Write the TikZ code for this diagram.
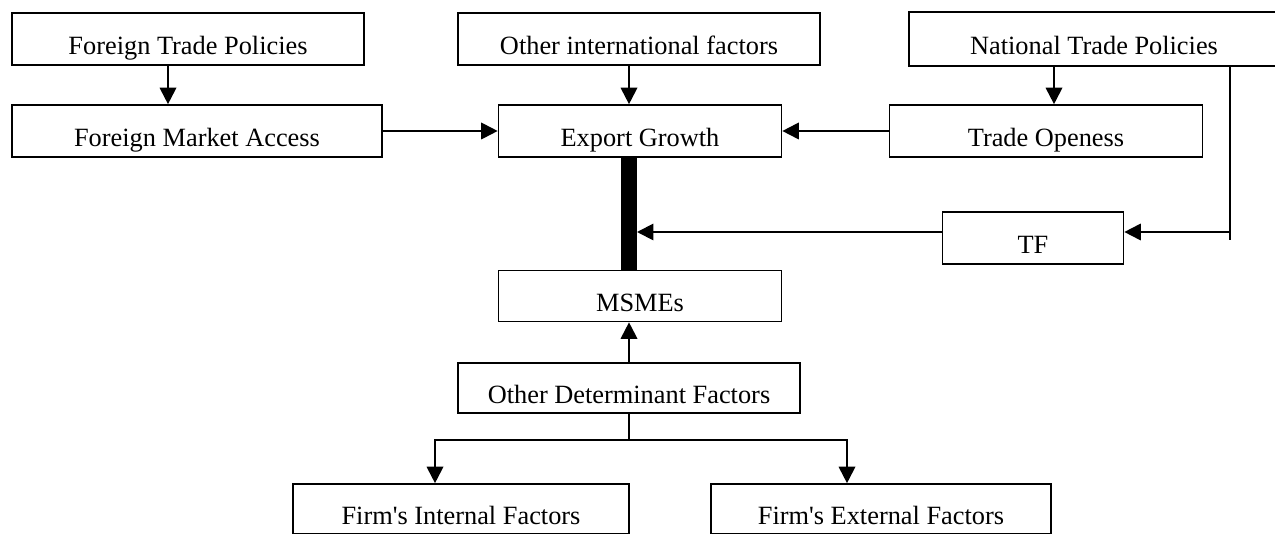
\documentclass[tikz,border=0pt]{standalone}
\usepackage{fontspec}
\setmainfont{Liberation Serif}
\usetikzlibrary{arrows.meta}
\tikzset{
  block/.style={draw, line width=0.75pt, minimum height=52*0.016cm, inner sep=0pt,
    text height=14.5pt, text depth=0pt, font=\fontsize{12}{14}\selectfont},
  bw/.style={minimum width=#1*0.016cm},
  bh/.style={minimum height=#1*0.016cm},
  link/.style={line width=0.9pt, -{Triangle[length=7.5pt,width=7.5pt]}},
  plain/.style={line width=0.9pt},
}
\begin{document}
\begin{tikzpicture}[x=0.016cm,y=-0.016cm]
\path[use as bounding box, clip] (0,0) rectangle (1275,534);
% top row
\node[block,bw=352] (ftp) at (188,39) {Foreign Trade Policies};
\node[block,bw=362] (oif) at (639,39) {Other international factors};
\node[block,draw=none,bw=368] (ntp) at (1094,39) {National Trade Policies};
\draw[line width=0.75pt] (ntp.south west) rectangle ([xshift=2cm]ntp.north east); % runs off the page
% second row
\node[block,bw=370] (fma) at (197,131) {Foreign Market Access};
\node[block,bw=283] (eg) at (640,131) {Export Growth};
\node[block,bw=313] (to) at (1046,131) {Trade Openess};
% middle
\node[block,bw=181] (tf) at (1033,238) {TF};
\node[block,bw=283,bh=51] (msme) at (640,296) {MSMEs};
\node[block,bw=342,bh=50] (odf) at (629,388) {Other Determinant Factors};
% bottom row
\node[block,bw=336,bh=50] (fif) at (461,509) {Firm\textquotesingle s Internal Factors};
\node[block,bw=340,bh=50] (fef) at (881,509) {Firm\textquotesingle s External Factors};
% helper points
\coordinate (spine) at (629,0);
\coordinate (lx) at (168,0);
\coordinate (nx) at (1054,0);
\coordinate (rail) at (1230,232);
\coordinate (railend) at (1230,240);
\coordinate (barside) at (637,232);
\coordinate (fork) at (629,440);
\coordinate (lb) at (435,440);
\coordinate (rb) at (847,440);
% connectors
\draw[link] (ftp.south -| lx) -- (fma.north -| lx);
\draw[link] (oif.south -| spine) -- (eg.north -| spine);
\draw[link] (ntp.south -| nx) -- (to.north -| nx);
\draw[link] (fma) -- (eg);
\draw[link] (to) -- (eg);
\draw[plain] (ntp.south -| rail) -- (railend);
\draw[link] (rail) -- (tf.east |- rail);
\draw[line width=0.256cm] (eg.south -| spine) -- (msme.north -| spine);
\draw[link] (tf.west |- rail) -- (barside);
\draw[link] (odf.north) -- (msme.south -| spine);
\draw[plain] (odf.south) -- (fork);
\draw[link] (fork) -| (fif.north -| lb);
\draw[link] (fork) -| (fef.north -| rb);
\end{tikzpicture}
\end{document}
